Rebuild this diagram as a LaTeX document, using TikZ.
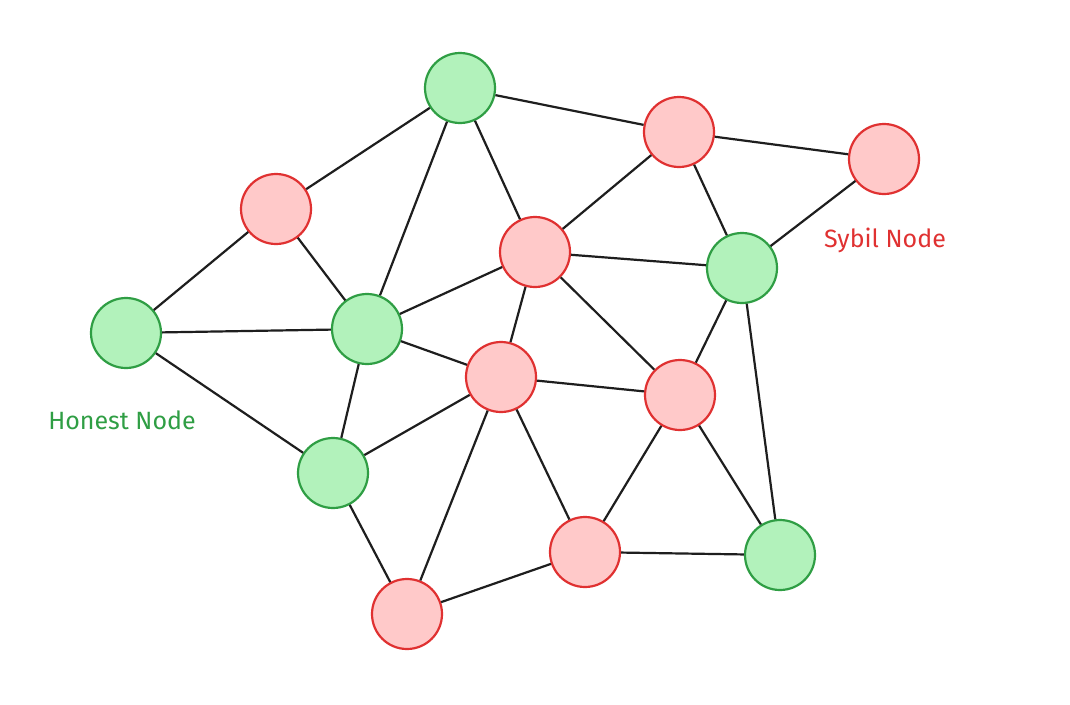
\documentclass[tikz,border=0pt]{standalone}
\usepackage{fontspec}
\setmainfont{Fira Sans}
\definecolor{gfill}{HTML}{B2F2BB}
\definecolor{gline}{HTML}{2F9E44}
\definecolor{rfill}{HTML}{FFC9C9}
\definecolor{rline}{HTML}{E03131}
\definecolor{edgec}{HTML}{1E1E1E}
\begin{document}
\begin{tikzpicture}[x=1pt,y=-1pt,
  honest/.style={circle,draw=gline,fill=gfill,line width=2.2pt,minimum size=70pt,inner sep=0pt},
  sybil/.style={circle,draw=rline,fill=rfill,line width=2.2pt,minimum size=70pt,inner sep=0pt},
  edge/.style={draw=edgec,line width=2.2pt},
  lab/.style={font=\fontsize{25}{30}\selectfont,inner sep=0pt}]
\useasboundingbox (0,0) rectangle (1070,704);
\fill[white] (0,0) rectangle (1070,704);
\node[honest] (g1) at (460,88) {};
\node[honest] (g2) at (126,333) {};
\node[honest] (g3) at (367,329) {};
\node[honest] (g4) at (333,473) {};
\node[honest] (g5) at (742,268) {};
\node[honest] (g6) at (780,555) {};
\node[sybil] (r1) at (276,209) {};
\node[sybil] (r2) at (679,132) {};
\node[sybil] (r3) at (884,159) {};
\node[sybil] (r4) at (535,252) {};
\node[sybil] (r5) at (501,377) {};
\node[sybil] (r6) at (680,395) {};
\node[sybil] (r7) at (585,552) {};
\node[sybil] (r8) at (407,614) {};
\foreach \a/\b in {g1/r1,g1/r2,g1/g3,g1/r4,r2/r3,r2/r4,r2/g5,r3/g5,r1/g2,r1/g3,g2/g3,g2/g4,g3/r4,g3/r5,g3/g4,r4/g5,r4/r5,r4/r6,g5/r6,g5/g6,g4/r5,g4/r8,r5/r6,r5/r7,r5/r8,r6/r7,r6/g6,r7/g6,r7/r8}
  \draw[edge] (\a) -- (\b);
\node[lab,text=gline] (hl) at (122,420) {Honest Node};
\node[lab,text=rline] (sl) at (885,240) {Sybil Node};
\end{tikzpicture}
\end{document}
